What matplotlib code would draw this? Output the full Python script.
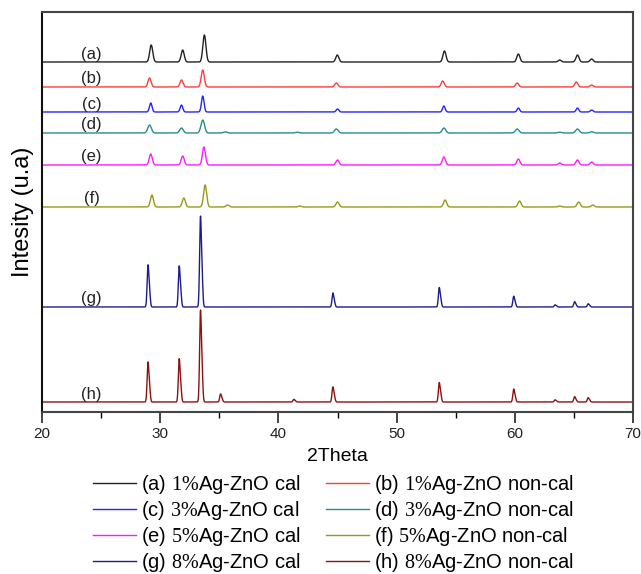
import numpy as np
import matplotlib
matplotlib.use("Agg")
import matplotlib.pyplot as plt
from matplotlib.ticker import MultipleLocator

plt.rcParams['font.family'] = ['Liberation Sans', 'DejaVu Sans']
plt.rcParams['mathtext.fontset'] = 'custom'
plt.rcParams['mathtext.rm'] = 'Liberation Serif'

# Peak lists: position (2Theta) and height (arb. units)
pos_a = [29.24, 31.9, 33.74, 44.98, 54.05, 60.3, 63.8, 65.3, 66.5]
hgt_a = [17, 12, 27, 7, 11, 8, 2, 7, 3]
pos_b = [29.1, 31.8, 33.6, 44.9, 53.9, 60.2, 65.2, 66.5]
hgt_b = [9, 7, 17, 4, 6, 4, 5, 2]
pos_c = [29.2, 31.8, 33.6, 45.0, 54.0, 60.3, 65.3, 66.5]
hgt_c = [9, 7, 16, 3, 6, 4, 4, 2]
pos_d = [29.1, 31.8, 33.6, 35.5, 41.6, 44.9, 54.0, 60.2, 63.8, 65.3, 66.5]
hgt_d = [8, 5, 13, 1.2, 0.8, 4, 5, 4, 0.8, 4, 1.2]
pos_e = [29.2, 31.9, 33.7, 45.0, 54.0, 60.3, 63.8, 65.3, 66.5]
hgt_e = [11, 9, 18, 5, 8, 6, 2, 5, 3]
pos_f = [29.3, 32.0, 33.8, 35.7, 41.8, 45.0, 54.1, 60.4, 63.8, 65.4, 66.6]
hgt_f = [12, 9, 22, 2, 1, 5, 7, 6, 1, 5, 2]
pos_g = [28.96, 31.6, 33.4, 44.6, 53.6, 59.9, 63.4, 65.05, 66.2]
hgt_g = [39, 38, 84, 13, 18, 10, 2, 5, 3]
pos_h = [28.96, 31.6, 33.4, 35.1, 41.3, 44.6, 53.6, 59.9, 63.4, 65.05, 66.2]
hgt_h = [37, 40, 85, 7.5, 2.5, 14, 18, 12, 2, 5, 4]

# vertical offsets of each pattern (stacked plot)
offsets = [350, 325, 300, 279, 247, 205, 105, 10]
letters = ['a', 'b', 'c', 'd', 'e', 'f', 'g', 'h']
pct = ['1', '1', '3', '3', '5', '5', '8', '8']
kind = ['cal', 'non-cal'] * 4
colors = ['#222222', '#ff3b3b', '#2424ff', '#288c8c',
          '#ff19ff', '#999919', '#1c1c8e', '#8e1010']

peaks = [(pos_a, hgt_a), (pos_b, hgt_b), (pos_c, hgt_c), (pos_d, hgt_d),
         (pos_e, hgt_e), (pos_f, hgt_f), (pos_g, hgt_g), (pos_h, hgt_h)]
widths = [0.13, 0.13, 0.11, 0.15, 0.13, 0.13, 0.07, 0.07]

theta = np.linspace(20, 70, 5000)


def profile(p, h, w, sharp):
    y = np.zeros_like(theta)
    for c, a in zip(p, h):
        y += a * np.exp(-0.5 * ((theta - c) / w) ** 2)
        if sharp:
            # small K-alpha2 shoulder
            y += 0.4 * a * np.exp(-0.5 * ((theta - c - 0.13) / w) ** 2)
    return y


fig = plt.figure(figsize=(6.41, 5.74), dpi=100)
ax = fig.add_axes([42 / 641, 1 - 412 / 574, 591 / 641, 400 / 574])

lines = []
for i in range(8):
    p, h = peaks[i]
    y = profile(p, h, widths[i], i >= 6)
    lab = '(%s) $\\mathrm{%s\\%%}$Ag-ZnO %s' % (letters[i], pct[i], kind[i])
    ln, = ax.plot(theta, y + offsets[i], color=colors[i], lw=1.0, label=lab)
    lines.append(ln)
    ax.text(24.2, offsets[i] + 8, '(%s)' % letters[i], fontsize=12,
            ha='center', va='center', color='#222222')

ax.set_xlim(20, 70)
ax.set_ylim(0, 400)
ax.set_yticks([])
ax.xaxis.set_major_locator(MultipleLocator(10))
ax.xaxis.set_minor_locator(MultipleLocator(5))
ax.tick_params(axis='x', which='major', direction='out', length=8, width=1.2,
               labelsize=11, pad=3, colors='#222222')
ax.tick_params(axis='x', which='minor', direction='out', length=4, width=1.0)
for s in ax.spines.values():
    s.set_linewidth(1.5)
    s.set_color('#444444')
ax.spines['left'].set_color('#111111')

ax.set_xlabel('2Theta', fontsize=14, labelpad=5)
ax.set_ylabel('Intesity (u.a)', fontsize=17, labelpad=6)

# row-major order for a 2-column legend
order = [0, 2, 4, 6, 1, 3, 5, 7]
fig.legend([lines[k] for k in order], [lines[k].get_label() for k in order],
           loc='upper center', bbox_to_anchor=(0.52, 1 - 459 / 574), ncol=2,
           frameon=False, fontsize=14.5, handlelength=2.15, handletextpad=0.25,
           columnspacing=1.25, labelspacing=0.14, borderpad=0.2)

fig.savefig('out.png', dpi=100)
